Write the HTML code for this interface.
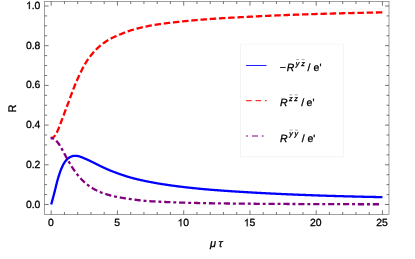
<!DOCTYPE html>
<html><head><meta charset="utf-8"><title>plot</title>
<style>
html,body{margin:0;padding:0;background:#fff;}
body{width:415px;height:259px;overflow:hidden;font-family:"Liberation Sans",sans-serif;}
svg{display:block;will-change:transform;text-rendering:geometricPrecision;font-family:"Liberation Sans",sans-serif;font-size:10px;fill:#000;}
text{stroke:#000;stroke-width:0.3px;}
.it{font-style:italic;}
</style></head><body>
<svg width="415" height="259" viewBox="0 0 415 259">
<rect x="0" y="0" width="415" height="259" fill="#fff"/>
<!-- curves -->
<g fill="none" stroke-width="2.3" stroke-linejoin="round">
<path d="M51.20 204.50 L51.53 203.29 L51.86 202.08 L52.19 200.86 L52.53 199.64 L52.86 198.41 L53.19 197.17 L53.52 195.92 L53.85 194.67 L54.18 193.41 L54.51 192.15 L54.84 190.86 L55.18 189.54 L55.51 188.19 L55.84 186.83 L56.17 185.47 L56.50 184.13 L56.83 182.81 L57.16 181.54 L57.49 180.31 L57.83 179.15 L58.16 178.03 L58.49 176.94 L58.82 175.86 L59.15 174.81 L59.48 173.79 L59.81 172.81 L60.14 171.86 L60.48 170.94 L60.81 170.07 L61.14 169.25 L61.47 168.46 L61.80 167.69 L62.13 166.94 L62.46 166.21 L62.79 165.51 L63.12 164.85 L63.46 164.21 L63.79 163.62 L64.12 163.06 L64.45 162.55 L64.78 162.07 L65.11 161.61 L65.44 161.17 L65.78 160.75 L66.11 160.35 L66.44 159.97 L66.77 159.62 L67.10 159.29 L67.43 158.98 L67.76 158.70 L68.09 158.44 L68.43 158.18 L68.76 157.94 L69.09 157.71 L69.42 157.49 L69.75 157.29 L70.08 157.10 L70.41 156.93 L70.74 156.78 L71.08 156.65 L71.41 156.53 L71.74 156.41 L72.07 156.29 L72.40 156.18 L72.73 156.07 L73.06 155.98 L73.39 155.91 L73.73 155.85 L74.06 155.81 L74.39 155.80 L74.72 155.80 L75.05 155.81 L75.38 155.83 L75.71 155.85 L76.04 155.88 L76.38 155.91 L76.71 155.94 L77.04 155.97 L77.37 156.01 L77.70 156.05 L78.03 156.10 L78.36 156.15 L78.69 156.22 L79.03 156.30 L79.36 156.40 L79.69 156.50 L80.02 156.60 L80.35 156.72 L80.68 156.84 L81.01 156.97 L81.34 157.10 L81.68 157.24 L82.01 157.38 L82.34 157.52 L82.67 157.66 L83.00 157.80 L83.33 157.94 L83.66 158.08 L83.99 158.22 L84.33 158.35 L84.66 158.48 L84.99 158.62 L85.32 158.75 L85.65 158.89 L85.98 159.04 L86.31 159.18 L86.64 159.33 L86.98 159.48 L87.31 159.63 L87.64 159.78 L87.97 159.94 L88.30 160.09 L88.63 160.25 L88.96 160.40 L89.29 160.56 L89.62 160.72 L89.96 160.88 L90.29 161.03 L90.62 161.19 L90.95 161.35 L91.28 161.51 L91.61 161.67 L91.94 161.83 L92.28 161.99 L92.61 162.16 L92.94 162.32 L93.27 162.49 L93.60 162.65 L93.93 162.82 L94.26 162.99 L94.59 163.15 L94.93 163.32 L95.26 163.49 L95.59 163.66 L95.92 163.82 L96.25 163.99 L96.58 164.16 L96.91 164.32 L97.24 164.49 L97.58 164.65 L97.91 164.81 L98.24 164.98 L98.57 165.14 L98.90 165.30 L99.23 165.46 L99.56 165.63 L99.89 165.79 L100.23 165.95 L100.56 166.11 L100.89 166.28 L101.22 166.44 L101.55 166.60 L101.88 166.76 L102.21 166.92 L102.54 167.07 L102.88 167.23 L103.21 167.39 L103.54 167.54 L103.87 167.70 L104.20 167.85 L104.53 168.00 L104.86 168.15 L105.19 168.30 L105.53 168.46 L105.86 168.61 L106.19 168.75 L106.52 168.90 L106.85 169.05 L107.18 169.20 L107.51 169.34 L107.84 169.49 L108.17 169.63 L108.51 169.78 L108.84 169.92 L109.17 170.06 L109.50 170.20 L109.83 170.34 L110.16 170.48 L110.49 170.62 L110.83 170.75 L111.16 170.88 L111.49 171.02 L111.82 171.15 L112.15 171.28 L112.48 171.41 L112.81 171.54 L113.14 171.67 L113.48 171.79 L113.81 171.92 L114.14 172.04 L114.47 172.17 L114.80 172.29 L115.13 172.41 L115.46 172.54 L115.79 172.66 L116.13 172.78 L116.46 172.90 L116.79 173.02 L117.12 173.13 L117.45 173.25 L117.78 173.37 L118.11 173.48 L118.44 173.60 L118.78 173.72 L119.11 173.83 L119.44 173.95 L119.77 174.06 L120.10 174.18 L120.43 174.29 L120.76 174.41 L121.09 174.52 L121.43 174.64 L121.76 174.75 L122.09 174.86 L122.42 174.98 L122.75 175.09 L123.08 175.20 L123.41 175.31 L123.74 175.42 L124.08 175.53 L124.41 175.64 L124.74 175.75 L125.07 175.86 L125.40 175.96 L125.73 176.07 L126.06 176.18 L126.39 176.28 L126.73 176.38 L127.06 176.49 L127.39 176.59 L127.72 176.69 L128.05 176.79 L128.38 176.89 L128.71 176.99 L129.04 177.09 L129.38 177.18 L129.71 177.28 L130.04 177.37 L130.37 177.47 L130.70 177.56 L131.36 177.74 L132.02 177.92 L132.69 178.10 L133.35 178.27 L134.01 178.44 L134.68 178.61 L135.34 178.78 L136.00 178.94 L136.66 179.10 L137.32 179.26 L137.99 179.42 L138.65 179.57 L139.31 179.72 L139.97 179.88 L140.64 180.02 L141.30 180.17 L141.96 180.32 L142.62 180.46 L143.29 180.61 L143.95 180.75 L144.61 180.89 L145.27 181.03 L145.94 181.17 L146.60 181.31 L147.26 181.44 L147.93 181.58 L148.59 181.71 L149.25 181.84 L149.91 181.98 L150.57 182.10 L151.24 182.23 L151.90 182.36 L152.56 182.48 L153.22 182.60 L153.89 182.73 L154.55 182.84 L155.21 182.96 L155.88 183.08 L156.54 183.19 L157.20 183.30 L157.86 183.41 L158.52 183.52 L159.19 183.63 L159.85 183.73 L160.51 183.84 L161.18 183.95 L161.84 184.05 L162.50 184.15 L163.16 184.26 L163.82 184.36 L164.49 184.46 L165.15 184.56 L165.81 184.66 L166.47 184.76 L167.14 184.86 L167.80 184.96 L168.46 185.05 L169.12 185.15 L169.79 185.24 L170.45 185.34 L171.11 185.43 L171.77 185.52 L172.44 185.62 L173.10 185.71 L173.76 185.80 L174.42 185.89 L175.09 185.97 L175.75 186.06 L176.41 186.15 L177.07 186.24 L177.74 186.32 L178.40 186.40 L179.06 186.49 L179.72 186.57 L180.39 186.65 L181.05 186.73 L181.71 186.81 L182.38 186.89 L183.04 186.97 L183.70 187.05 L184.36 187.13 L185.02 187.20 L185.69 187.28 L186.35 187.35 L187.01 187.43 L187.68 187.50 L188.34 187.58 L189.00 187.65 L189.66 187.72 L190.32 187.79 L190.99 187.87 L191.65 187.94 L192.31 188.01 L192.97 188.08 L193.64 188.14 L194.30 188.21 L194.96 188.28 L195.62 188.35 L196.29 188.41 L196.95 188.48 L197.61 188.55 L198.27 188.61 L198.94 188.68 L199.60 188.74 L200.26 188.80 L200.93 188.86 L201.59 188.93 L202.25 188.99 L202.91 189.05 L203.57 189.11 L204.24 189.17 L204.90 189.23 L205.56 189.29 L206.22 189.34 L206.89 189.40 L207.55 189.46 L208.21 189.51 L208.88 189.57 L209.54 189.63 L210.20 189.68 L210.86 189.73 L211.52 189.79 L212.19 189.84 L212.85 189.89 L213.51 189.95 L214.18 190.00 L214.84 190.05 L215.50 190.10 L216.16 190.15 L216.82 190.20 L217.49 190.25 L218.15 190.30 L218.81 190.35 L219.47 190.40 L220.14 190.45 L220.80 190.50 L221.46 190.55 L222.12 190.60 L222.79 190.65 L223.45 190.69 L224.11 190.74 L224.77 190.79 L225.44 190.84 L226.10 190.88 L226.76 190.93 L227.43 190.97 L228.09 191.02 L228.75 191.06 L229.41 191.11 L230.07 191.15 L230.74 191.20 L231.40 191.24 L232.06 191.29 L232.72 191.33 L233.39 191.37 L234.05 191.42 L234.71 191.46 L235.38 191.50 L236.04 191.55 L236.70 191.59 L237.36 191.63 L238.02 191.67 L238.69 191.71 L239.35 191.76 L240.01 191.80 L240.68 191.84 L241.34 191.88 L242.00 191.92 L242.66 191.96 L243.32 192.00 L243.99 192.04 L244.65 192.08 L245.31 192.12 L245.97 192.16 L246.64 192.20 L247.30 192.24 L247.96 192.27 L248.62 192.31 L249.29 192.35 L249.95 192.39 L250.61 192.43 L251.27 192.47 L251.94 192.50 L252.60 192.54 L253.26 192.58 L253.93 192.62 L254.59 192.65 L255.25 192.69 L255.91 192.73 L256.57 192.76 L257.24 192.80 L257.90 192.84 L258.56 192.87 L259.22 192.91 L259.89 192.94 L260.55 192.98 L261.21 193.02 L261.88 193.05 L262.54 193.09 L263.20 193.12 L263.86 193.16 L264.52 193.19 L265.19 193.22 L265.85 193.26 L266.51 193.29 L267.18 193.33 L267.84 193.36 L268.50 193.39 L269.16 193.43 L269.82 193.46 L270.49 193.49 L271.15 193.53 L271.81 193.56 L272.47 193.59 L273.14 193.63 L273.80 193.66 L274.46 193.69 L275.12 193.72 L275.79 193.75 L276.45 193.78 L277.11 193.82 L277.77 193.85 L278.44 193.88 L279.10 193.91 L279.76 193.94 L280.42 193.97 L281.09 194.00 L281.75 194.03 L282.41 194.06 L283.07 194.09 L283.74 194.12 L284.40 194.15 L285.06 194.18 L285.72 194.21 L286.39 194.24 L287.05 194.27 L287.71 194.30 L288.38 194.32 L289.04 194.35 L289.70 194.38 L290.36 194.41 L291.02 194.44 L291.69 194.46 L292.35 194.49 L293.01 194.52 L293.67 194.55 L294.34 194.57 L295.00 194.60 L295.66 194.63 L296.32 194.66 L296.99 194.68 L297.65 194.71 L298.31 194.74 L298.97 194.76 L299.64 194.79 L300.30 194.82 L300.96 194.84 L301.62 194.87 L302.29 194.89 L302.95 194.92 L303.61 194.95 L304.27 194.97 L304.94 195.00 L305.60 195.02 L306.26 195.05 L306.92 195.07 L307.59 195.10 L308.25 195.12 L308.91 195.15 L309.57 195.17 L310.24 195.20 L310.90 195.22 L311.56 195.25 L312.22 195.27 L312.89 195.29 L313.55 195.32 L314.21 195.34 L314.87 195.36 L315.54 195.39 L316.20 195.41 L316.86 195.43 L317.52 195.46 L318.19 195.48 L318.85 195.50 L319.51 195.52 L320.17 195.55 L320.84 195.57 L321.50 195.59 L322.16 195.61 L322.82 195.63 L323.49 195.66 L324.15 195.68 L324.81 195.70 L325.47 195.72 L326.14 195.74 L326.80 195.76 L327.46 195.78 L328.12 195.80 L328.79 195.82 L329.45 195.84 L330.11 195.86 L330.77 195.88 L331.44 195.90 L332.10 195.92 L332.76 195.94 L333.42 195.96 L334.09 195.98 L334.75 196.00 L335.41 196.01 L336.07 196.03 L336.74 196.05 L337.40 196.07 L338.06 196.09 L338.72 196.11 L339.39 196.13 L340.05 196.15 L340.71 196.17 L341.37 196.18 L342.04 196.20 L342.70 196.22 L343.36 196.24 L344.02 196.26 L344.69 196.28 L345.35 196.29 L346.01 196.31 L346.68 196.33 L347.34 196.35 L348.00 196.36 L348.66 196.38 L349.32 196.40 L349.99 196.42 L350.65 196.43 L351.31 196.45 L351.97 196.47 L352.64 196.49 L353.30 196.50 L353.96 196.52 L354.62 196.54 L355.29 196.55 L355.95 196.57 L356.61 196.59 L357.27 196.60 L357.94 196.62 L358.60 196.64 L359.26 196.65 L359.93 196.67 L360.59 196.68 L361.25 196.70 L361.91 196.72 L362.57 196.73 L363.24 196.75 L363.90 196.76 L364.56 196.78 L365.22 196.79 L365.89 196.81 L366.55 196.82 L367.21 196.84 L367.87 196.85 L368.54 196.87 L369.20 196.88 L369.86 196.89 L370.52 196.91 L371.19 196.92 L371.85 196.94 L372.51 196.95 L373.18 196.96 L373.84 196.98 L374.50 196.99 L375.16 197.00 L375.82 197.02 L376.49 197.03 L377.15 197.04 L377.81 197.06 L378.47 197.07 L379.14 197.08 L379.80 197.09 L380.46 197.10 L381.12 197.12 L381.79 197.13 L382.45 197.14" stroke="#0000ff"/>
<path d="M51.20 138.00 L51.53 138.00 L51.86 137.99 L52.19 137.88 L52.53 137.73 L52.86 137.54 L53.19 137.30 L53.52 137.03 L53.85 136.73 L54.18 136.40 L54.51 136.06 L54.84 135.70 L55.18 135.32 L55.51 134.89 L55.84 134.38 L56.17 133.79 L56.50 133.15 L56.83 132.47 L57.16 131.74 L57.49 131.00 L57.83 130.24 L58.16 129.48 L58.49 128.73 L58.82 127.95 L59.15 127.14 L59.48 126.29 L59.81 125.41 L60.14 124.51 L60.48 123.61 L60.81 122.70 L61.14 121.79 L61.47 120.89 L61.80 120.02 L62.13 119.14 L62.46 118.27 L62.79 117.39 L63.12 116.52 L63.46 115.64 L63.79 114.76 L64.12 113.89 L64.45 113.01 L64.78 112.13 L65.11 111.25 L65.44 110.38 L65.78 109.50 L66.11 108.63 L66.44 107.76 L66.77 106.88 L67.10 106.01 L67.43 105.13 L67.76 104.25 L68.09 103.36 L68.43 102.47 L68.76 101.57 L69.09 100.67 L69.42 99.75 L69.75 98.84 L70.08 97.92 L70.41 97.01 L70.74 96.10 L71.08 95.20 L71.41 94.29 L71.74 93.40 L72.07 92.51 L72.40 91.63 L72.73 90.75 L73.06 89.89 L73.39 89.03 L73.73 88.18 L74.06 87.34 L74.39 86.51 L74.72 85.69 L75.05 84.88 L75.38 84.08 L75.71 83.29 L76.04 82.51 L76.38 81.74 L76.71 80.98 L77.04 80.22 L77.37 79.48 L77.70 78.74 L78.03 78.02 L78.36 77.30 L78.69 76.58 L79.03 75.86 L79.36 75.15 L79.69 74.43 L80.02 73.72 L80.35 73.02 L80.68 72.32 L81.01 71.63 L81.34 70.94 L81.68 70.26 L82.01 69.59 L82.34 68.93 L82.67 68.29 L83.00 67.65 L83.33 67.02 L83.66 66.41 L83.99 65.81 L84.33 65.23 L84.66 64.66 L84.99 64.11 L85.32 63.56 L85.65 63.02 L85.98 62.49 L86.31 61.97 L86.64 61.45 L86.98 60.94 L87.31 60.44 L87.64 59.95 L87.97 59.47 L88.30 58.99 L88.63 58.52 L88.96 58.05 L89.29 57.60 L89.62 57.15 L89.96 56.70 L90.29 56.26 L90.62 55.83 L90.95 55.40 L91.28 54.99 L91.61 54.58 L91.94 54.18 L92.28 53.78 L92.61 53.39 L92.94 53.00 L93.27 52.62 L93.60 52.24 L93.93 51.86 L94.26 51.49 L94.59 51.13 L94.93 50.77 L95.26 50.42 L95.59 50.07 L95.92 49.73 L96.25 49.39 L96.58 49.06 L96.91 48.73 L97.24 48.41 L97.58 48.10 L97.91 47.79 L98.24 47.49 L98.57 47.19 L98.90 46.89 L99.23 46.60 L99.56 46.31 L99.89 46.03 L100.23 45.75 L100.56 45.48 L100.89 45.21 L101.22 44.94 L101.55 44.68 L101.88 44.42 L102.21 44.16 L102.54 43.91 L102.88 43.66 L103.21 43.41 L103.54 43.17 L103.87 42.93 L104.20 42.70 L104.53 42.47 L104.86 42.24 L105.19 42.01 L105.53 41.79 L105.86 41.57 L106.19 41.35 L106.52 41.14 L106.85 40.92 L107.18 40.72 L107.51 40.51 L107.84 40.30 L108.17 40.10 L108.51 39.91 L108.84 39.71 L109.17 39.52 L109.50 39.33 L109.83 39.14 L110.16 38.96 L110.49 38.78 L110.83 38.60 L111.16 38.43 L111.49 38.25 L111.82 38.08 L112.15 37.92 L112.48 37.75 L112.81 37.59 L113.14 37.43 L113.48 37.28 L113.81 37.12 L114.14 36.97 L114.47 36.82 L114.80 36.67 L115.13 36.52 L115.46 36.37 L115.79 36.22 L116.13 36.08 L116.46 35.93 L116.79 35.79 L117.12 35.64 L117.45 35.50 L117.78 35.36 L118.11 35.21 L118.44 35.07 L118.78 34.93 L119.11 34.79 L119.44 34.65 L119.77 34.51 L120.10 34.38 L120.43 34.24 L120.76 34.11 L121.09 33.97 L121.43 33.84 L121.76 33.71 L122.09 33.57 L122.42 33.44 L122.75 33.31 L123.08 33.18 L123.41 33.06 L123.74 32.93 L124.08 32.80 L124.41 32.67 L124.74 32.55 L125.07 32.42 L125.40 32.29 L125.73 32.16 L126.06 32.04 L126.39 31.91 L126.73 31.79 L127.06 31.66 L127.39 31.54 L127.72 31.42 L128.05 31.30 L128.38 31.18 L128.71 31.06 L129.04 30.94 L129.38 30.83 L129.71 30.72 L130.04 30.61 L130.37 30.50 L130.70 30.40 L131.36 30.20 L132.02 30.00 L132.69 29.80 L133.35 29.61 L134.01 29.42 L134.68 29.23 L135.34 29.05 L136.00 28.87 L136.66 28.70 L137.32 28.52 L137.99 28.35 L138.65 28.18 L139.31 28.02 L139.97 27.86 L140.64 27.70 L141.30 27.54 L141.96 27.39 L142.62 27.24 L143.29 27.09 L143.95 26.95 L144.61 26.81 L145.27 26.67 L145.94 26.53 L146.60 26.39 L147.26 26.26 L147.93 26.12 L148.59 25.99 L149.25 25.87 L149.91 25.74 L150.57 25.61 L151.24 25.49 L151.90 25.37 L152.56 25.26 L153.22 25.14 L153.89 25.03 L154.55 24.92 L155.21 24.81 L155.88 24.70 L156.54 24.60 L157.20 24.50 L157.86 24.40 L158.52 24.30 L159.19 24.21 L159.85 24.11 L160.51 24.02 L161.18 23.93 L161.84 23.84 L162.50 23.75 L163.16 23.66 L163.82 23.57 L164.49 23.48 L165.15 23.39 L165.81 23.31 L166.47 23.23 L167.14 23.14 L167.80 23.06 L168.46 22.98 L169.12 22.90 L169.79 22.82 L170.45 22.74 L171.11 22.66 L171.77 22.58 L172.44 22.51 L173.10 22.43 L173.76 22.36 L174.42 22.28 L175.09 22.21 L175.75 22.13 L176.41 22.06 L177.07 21.99 L177.74 21.92 L178.40 21.85 L179.06 21.78 L179.72 21.71 L180.39 21.64 L181.05 21.57 L181.71 21.50 L182.38 21.43 L183.04 21.37 L183.70 21.30 L184.36 21.23 L185.02 21.17 L185.69 21.10 L186.35 21.04 L187.01 20.97 L187.68 20.91 L188.34 20.84 L189.00 20.78 L189.66 20.71 L190.32 20.65 L190.99 20.59 L191.65 20.53 L192.31 20.47 L192.97 20.40 L193.64 20.34 L194.30 20.28 L194.96 20.22 L195.62 20.17 L196.29 20.11 L196.95 20.05 L197.61 19.99 L198.27 19.93 L198.94 19.88 L199.60 19.82 L200.26 19.77 L200.93 19.71 L201.59 19.66 L202.25 19.60 L202.91 19.55 L203.57 19.50 L204.24 19.44 L204.90 19.39 L205.56 19.34 L206.22 19.29 L206.89 19.24 L207.55 19.19 L208.21 19.14 L208.88 19.09 L209.54 19.05 L210.20 19.00 L210.86 18.95 L211.52 18.91 L212.19 18.86 L212.85 18.82 L213.51 18.77 L214.18 18.73 L214.84 18.68 L215.50 18.64 L216.16 18.60 L216.82 18.55 L217.49 18.51 L218.15 18.47 L218.81 18.43 L219.47 18.38 L220.14 18.34 L220.80 18.30 L221.46 18.26 L222.12 18.22 L222.79 18.18 L223.45 18.14 L224.11 18.10 L224.77 18.06 L225.44 18.02 L226.10 17.98 L226.76 17.94 L227.43 17.90 L228.09 17.87 L228.75 17.83 L229.41 17.79 L230.07 17.75 L230.74 17.72 L231.40 17.68 L232.06 17.64 L232.72 17.60 L233.39 17.57 L234.05 17.53 L234.71 17.50 L235.38 17.46 L236.04 17.42 L236.70 17.39 L237.36 17.35 L238.02 17.32 L238.69 17.28 L239.35 17.25 L240.01 17.21 L240.68 17.18 L241.34 17.14 L242.00 17.11 L242.66 17.07 L243.32 17.04 L243.99 17.01 L244.65 16.97 L245.31 16.94 L245.97 16.90 L246.64 16.87 L247.30 16.83 L247.96 16.80 L248.62 16.77 L249.29 16.73 L249.95 16.70 L250.61 16.67 L251.27 16.63 L251.94 16.60 L252.60 16.57 L253.26 16.53 L253.93 16.50 L254.59 16.47 L255.25 16.43 L255.91 16.40 L256.57 16.37 L257.24 16.34 L257.90 16.30 L258.56 16.27 L259.22 16.24 L259.89 16.21 L260.55 16.17 L261.21 16.14 L261.88 16.11 L262.54 16.08 L263.20 16.05 L263.86 16.01 L264.52 15.98 L265.19 15.95 L265.85 15.92 L266.51 15.89 L267.18 15.86 L267.84 15.83 L268.50 15.80 L269.16 15.77 L269.82 15.74 L270.49 15.71 L271.15 15.68 L271.81 15.65 L272.47 15.62 L273.14 15.59 L273.80 15.56 L274.46 15.53 L275.12 15.50 L275.79 15.47 L276.45 15.44 L277.11 15.41 L277.77 15.38 L278.44 15.36 L279.10 15.33 L279.76 15.30 L280.42 15.27 L281.09 15.24 L281.75 15.22 L282.41 15.19 L283.07 15.16 L283.74 15.13 L284.40 15.11 L285.06 15.08 L285.72 15.05 L286.39 15.03 L287.05 15.00 L287.71 14.98 L288.38 14.95 L289.04 14.93 L289.70 14.90 L290.36 14.87 L291.02 14.85 L291.69 14.82 L292.35 14.80 L293.01 14.78 L293.67 14.75 L294.34 14.73 L295.00 14.70 L295.66 14.68 L296.32 14.65 L296.99 14.63 L297.65 14.61 L298.31 14.58 L298.97 14.56 L299.64 14.53 L300.30 14.51 L300.96 14.49 L301.62 14.46 L302.29 14.44 L302.95 14.42 L303.61 14.40 L304.27 14.37 L304.94 14.35 L305.60 14.33 L306.26 14.31 L306.92 14.28 L307.59 14.26 L308.25 14.24 L308.91 14.22 L309.57 14.20 L310.24 14.17 L310.90 14.15 L311.56 14.13 L312.22 14.11 L312.89 14.09 L313.55 14.07 L314.21 14.05 L314.87 14.03 L315.54 14.00 L316.20 13.98 L316.86 13.96 L317.52 13.94 L318.19 13.92 L318.85 13.90 L319.51 13.88 L320.17 13.86 L320.84 13.84 L321.50 13.82 L322.16 13.80 L322.82 13.79 L323.49 13.77 L324.15 13.75 L324.81 13.73 L325.47 13.71 L326.14 13.69 L326.80 13.67 L327.46 13.65 L328.12 13.64 L328.79 13.62 L329.45 13.60 L330.11 13.58 L330.77 13.56 L331.44 13.55 L332.10 13.53 L332.76 13.51 L333.42 13.49 L334.09 13.48 L334.75 13.46 L335.41 13.44 L336.07 13.42 L336.74 13.41 L337.40 13.39 L338.06 13.37 L338.72 13.35 L339.39 13.34 L340.05 13.32 L340.71 13.30 L341.37 13.29 L342.04 13.27 L342.70 13.25 L343.36 13.24 L344.02 13.22 L344.69 13.20 L345.35 13.19 L346.01 13.17 L346.68 13.15 L347.34 13.14 L348.00 13.12 L348.66 13.11 L349.32 13.09 L349.99 13.07 L350.65 13.06 L351.31 13.04 L351.97 13.03 L352.64 13.01 L353.30 12.99 L353.96 12.98 L354.62 12.96 L355.29 12.95 L355.95 12.93 L356.61 12.92 L357.27 12.90 L357.94 12.89 L358.60 12.87 L359.26 12.86 L359.93 12.84 L360.59 12.83 L361.25 12.81 L361.91 12.80 L362.57 12.79 L363.24 12.77 L363.90 12.76 L364.56 12.74 L365.22 12.73 L365.89 12.71 L366.55 12.70 L367.21 12.69 L367.87 12.67 L368.54 12.66 L369.20 12.65 L369.86 12.63 L370.52 12.62 L371.19 12.61 L371.85 12.59 L372.51 12.58 L373.18 12.57 L373.84 12.56 L374.50 12.54 L375.16 12.53 L375.82 12.52 L376.49 12.51 L377.15 12.49 L377.81 12.48 L378.47 12.47 L379.14 12.46 L379.80 12.45 L380.46 12.43 L381.12 12.42 L381.79 12.41 L382.45 12.40" stroke="#ff0000" stroke-dasharray="6.46 2.78" stroke-dashoffset="1.2"/>
<path d="M51.20 138.00 L51.53 138.06 L51.86 138.14 L52.19 138.25 L52.53 138.37 L52.86 138.51 L53.19 138.67 L53.52 138.84 L53.85 139.02 L54.18 139.21 L54.51 139.40 L54.84 139.61 L55.18 139.86 L55.51 140.14 L55.84 140.44 L56.17 140.77 L56.50 141.12 L56.83 141.49 L57.16 141.87 L57.49 142.26 L57.83 142.65 L58.16 143.06 L58.49 143.51 L58.82 143.99 L59.15 144.48 L59.48 145.00 L59.81 145.54 L60.14 146.08 L60.48 146.64 L60.81 147.19 L61.14 147.75 L61.47 148.31 L61.80 148.90 L62.13 149.50 L62.46 150.11 L62.79 150.73 L63.12 151.35 L63.46 151.97 L63.79 152.60 L64.12 153.21 L64.45 153.82 L64.78 154.42 L65.11 155.03 L65.44 155.63 L65.78 156.23 L66.11 156.83 L66.44 157.43 L66.77 158.03 L67.10 158.62 L67.43 159.21 L67.76 159.79 L68.09 160.37 L68.43 160.95 L68.76 161.53 L69.09 162.10 L69.42 162.67 L69.75 163.24 L70.08 163.80 L70.41 164.35 L70.74 164.90 L71.08 165.44 L71.41 165.97 L71.74 166.51 L72.07 167.03 L72.40 167.55 L72.73 168.07 L73.06 168.58 L73.39 169.08 L73.73 169.58 L74.06 170.07 L74.39 170.55 L74.72 171.03 L75.05 171.50 L75.38 171.96 L75.71 172.43 L76.04 172.88 L76.38 173.33 L76.71 173.77 L77.04 174.19 L77.37 174.61 L77.70 175.02 L78.03 175.42 L78.36 175.81 L78.69 176.21 L79.03 176.59 L79.36 176.98 L79.69 177.36 L80.02 177.73 L80.35 178.10 L80.68 178.47 L81.01 178.83 L81.34 179.19 L81.68 179.54 L82.01 179.88 L82.34 180.22 L82.67 180.55 L83.00 180.88 L83.33 181.20 L83.66 181.51 L83.99 181.82 L84.33 182.12 L84.66 182.41 L84.99 182.71 L85.32 182.99 L85.65 183.27 L85.98 183.55 L86.31 183.83 L86.64 184.09 L86.98 184.36 L87.31 184.62 L87.64 184.88 L87.97 185.13 L88.30 185.38 L88.63 185.62 L88.96 185.86 L89.29 186.10 L89.62 186.33 L89.96 186.56 L90.29 186.78 L90.62 187.00 L90.95 187.22 L91.28 187.43 L91.61 187.64 L91.94 187.85 L92.28 188.05 L92.61 188.25 L92.94 188.45 L93.27 188.64 L93.60 188.83 L93.93 189.02 L94.26 189.20 L94.59 189.38 L94.93 189.56 L95.26 189.74 L95.59 189.91 L95.92 190.08 L96.25 190.25 L96.58 190.41 L96.91 190.58 L97.24 190.73 L97.58 190.89 L97.91 191.04 L98.24 191.19 L98.57 191.34 L98.90 191.49 L99.23 191.64 L99.56 191.78 L99.89 191.92 L100.23 192.06 L100.56 192.19 L100.89 192.33 L101.22 192.46 L101.55 192.59 L101.88 192.72 L102.21 192.84 L102.54 192.97 L102.88 193.09 L103.21 193.21 L103.54 193.33 L103.87 193.45 L104.20 193.56 L104.53 193.67 L104.86 193.78 L105.19 193.89 L105.53 194.00 L105.86 194.11 L106.19 194.21 L106.52 194.32 L106.85 194.42 L107.18 194.52 L107.51 194.62 L107.84 194.72 L108.17 194.82 L108.51 194.91 L108.84 195.01 L109.17 195.10 L109.50 195.19 L109.83 195.28 L110.16 195.37 L110.49 195.45 L110.83 195.54 L111.16 195.62 L111.49 195.71 L111.82 195.79 L112.15 195.87 L112.48 195.95 L112.81 196.03 L113.14 196.11 L113.48 196.19 L113.81 196.27 L114.14 196.34 L114.47 196.42 L114.80 196.49 L115.13 196.56 L115.46 196.63 L115.79 196.70 L116.13 196.77 L116.46 196.84 L116.79 196.90 L117.12 196.97 L117.45 197.03 L117.78 197.09 L118.11 197.15 L118.44 197.21 L118.78 197.27 L119.11 197.33 L119.44 197.39 L119.77 197.45 L120.10 197.50 L120.43 197.56 L120.76 197.62 L121.09 197.67 L121.43 197.73 L121.76 197.78 L122.09 197.83 L122.42 197.88 L122.75 197.94 L123.08 197.99 L123.41 198.04 L123.74 198.09 L124.08 198.14 L124.41 198.19 L124.74 198.24 L125.07 198.29 L125.40 198.34 L125.73 198.39 L126.06 198.44 L126.39 198.48 L126.73 198.53 L127.06 198.58 L127.39 198.63 L127.72 198.67 L128.05 198.72 L128.38 198.77 L128.71 198.81 L129.04 198.86 L129.38 198.91 L129.71 198.95 L130.04 199.00 L130.37 199.04 L130.70 199.09 L131.36 199.18 L132.02 199.27 L132.69 199.37 L133.35 199.46 L134.01 199.55 L134.68 199.64 L135.34 199.74 L136.00 199.83 L136.66 199.91 L137.32 200.00 L137.99 200.09 L138.65 200.17 L139.31 200.25 L139.97 200.33 L140.64 200.41 L141.30 200.48 L141.96 200.55 L142.62 200.62 L143.29 200.68 L143.95 200.74 L144.61 200.80 L145.27 200.85 L145.94 200.90 L146.60 200.95 L147.26 201.00 L147.93 201.05 L148.59 201.10 L149.25 201.15 L149.91 201.19 L150.57 201.23 L151.24 201.28 L151.90 201.32 L152.56 201.36 L153.22 201.39 L153.89 201.43 L154.55 201.47 L155.21 201.51 L155.88 201.54 L156.54 201.58 L157.20 201.61 L157.86 201.64 L158.52 201.68 L159.19 201.71 L159.85 201.74 L160.51 201.77 L161.18 201.81 L161.84 201.84 L162.50 201.87 L163.16 201.90 L163.82 201.93 L164.49 201.96 L165.15 201.99 L165.81 202.02 L166.47 202.04 L167.14 202.07 L167.80 202.10 L168.46 202.13 L169.12 202.16 L169.79 202.18 L170.45 202.21 L171.11 202.23 L171.77 202.26 L172.44 202.29 L173.10 202.31 L173.76 202.34 L174.42 202.36 L175.09 202.38 L175.75 202.41 L176.41 202.43 L177.07 202.45 L177.74 202.48 L178.40 202.50 L179.06 202.52 L179.72 202.54 L180.39 202.56 L181.05 202.58 L181.71 202.60 L182.38 202.62 L183.04 202.64 L183.70 202.66 L184.36 202.68 L185.02 202.70 L185.69 202.72 L186.35 202.73 L187.01 202.75 L187.68 202.77 L188.34 202.79 L189.00 202.80 L189.66 202.82 L190.32 202.84 L190.99 202.86 L191.65 202.87 L192.31 202.89 L192.97 202.90 L193.64 202.92 L194.30 202.94 L194.96 202.95 L195.62 202.97 L196.29 202.98 L196.95 203.00 L197.61 203.01 L198.27 203.03 L198.94 203.04 L199.60 203.05 L200.26 203.07 L200.93 203.08 L201.59 203.09 L202.25 203.11 L202.91 203.12 L203.57 203.13 L204.24 203.15 L204.90 203.16 L205.56 203.17 L206.22 203.18 L206.89 203.19 L207.55 203.21 L208.21 203.22 L208.88 203.23 L209.54 203.24 L210.20 203.25 L210.86 203.26 L211.52 203.27 L212.19 203.28 L212.85 203.29 L213.51 203.30 L214.18 203.31 L214.84 203.32 L215.50 203.33 L216.16 203.34 L216.82 203.35 L217.49 203.36 L218.15 203.37 L218.81 203.38 L219.47 203.39 L220.14 203.40 L220.80 203.41 L221.46 203.42 L222.12 203.43 L222.79 203.43 L223.45 203.44 L224.11 203.45 L224.77 203.46 L225.44 203.47 L226.10 203.48 L226.76 203.49 L227.43 203.49 L228.09 203.50 L228.75 203.51 L229.41 203.52 L230.07 203.53 L230.74 203.54 L231.40 203.54 L232.06 203.55 L232.72 203.56 L233.39 203.57 L234.05 203.57 L234.71 203.58 L235.38 203.59 L236.04 203.60 L236.70 203.60 L237.36 203.61 L238.02 203.62 L238.69 203.62 L239.35 203.63 L240.01 203.64 L240.68 203.64 L241.34 203.65 L242.00 203.66 L242.66 203.66 L243.32 203.67 L243.99 203.68 L244.65 203.68 L245.31 203.69 L245.97 203.69 L246.64 203.70 L247.30 203.71 L247.96 203.71 L248.62 203.72 L249.29 203.72 L249.95 203.73 L250.61 203.74 L251.27 203.74 L251.94 203.75 L252.60 203.75 L253.26 203.76 L253.93 203.76 L254.59 203.77 L255.25 203.77 L255.91 203.78 L256.57 203.78 L257.24 203.79 L257.90 203.79 L258.56 203.80 L259.22 203.80 L259.89 203.81 L260.55 203.81 L261.21 203.82 L261.88 203.82 L262.54 203.83 L263.20 203.83 L263.86 203.84 L264.52 203.84 L265.19 203.85 L265.85 203.85 L266.51 203.86 L267.18 203.86 L267.84 203.86 L268.50 203.87 L269.16 203.87 L269.82 203.88 L270.49 203.88 L271.15 203.89 L271.81 203.89 L272.47 203.89 L273.14 203.90 L273.80 203.90 L274.46 203.91 L275.12 203.91 L275.79 203.91 L276.45 203.92 L277.11 203.92 L277.77 203.93 L278.44 203.93 L279.10 203.93 L279.76 203.94 L280.42 203.94 L281.09 203.94 L281.75 203.95 L282.41 203.95 L283.07 203.96 L283.74 203.96 L284.40 203.96 L285.06 203.97 L285.72 203.97 L286.39 203.97 L287.05 203.98 L287.71 203.98 L288.38 203.98 L289.04 203.99 L289.70 203.99 L290.36 203.99 L291.02 204.00 L291.69 204.00 L292.35 204.00 L293.01 204.01 L293.67 204.01 L294.34 204.01 L295.00 204.02 L295.66 204.02 L296.32 204.02 L296.99 204.03 L297.65 204.03 L298.31 204.03 L298.97 204.03 L299.64 204.04 L300.30 204.04 L300.96 204.04 L301.62 204.05 L302.29 204.05 L302.95 204.05 L303.61 204.05 L304.27 204.06 L304.94 204.06 L305.60 204.06 L306.26 204.07 L306.92 204.07 L307.59 204.07 L308.25 204.07 L308.91 204.08 L309.57 204.08 L310.24 204.08 L310.90 204.08 L311.56 204.09 L312.22 204.09 L312.89 204.09 L313.55 204.10 L314.21 204.10 L314.87 204.10 L315.54 204.10 L316.20 204.11 L316.86 204.11 L317.52 204.11 L318.19 204.11 L318.85 204.11 L319.51 204.12 L320.17 204.12 L320.84 204.12 L321.50 204.12 L322.16 204.13 L322.82 204.13 L323.49 204.13 L324.15 204.13 L324.81 204.14 L325.47 204.14 L326.14 204.14 L326.80 204.14 L327.46 204.14 L328.12 204.15 L328.79 204.15 L329.45 204.15 L330.11 204.15 L330.77 204.15 L331.44 204.16 L332.10 204.16 L332.76 204.16 L333.42 204.16 L334.09 204.16 L334.75 204.17 L335.41 204.17 L336.07 204.17 L336.74 204.17 L337.40 204.17 L338.06 204.18 L338.72 204.18 L339.39 204.18 L340.05 204.18 L340.71 204.18 L341.37 204.19 L342.04 204.19 L342.70 204.19 L343.36 204.19 L344.02 204.19 L344.69 204.20 L345.35 204.20 L346.01 204.20 L346.68 204.20 L347.34 204.20 L348.00 204.20 L348.66 204.21 L349.32 204.21 L349.99 204.21 L350.65 204.21 L351.31 204.21 L351.97 204.21 L352.64 204.22 L353.30 204.22 L353.96 204.22 L354.62 204.22 L355.29 204.22 L355.95 204.23 L356.61 204.23 L357.27 204.23 L357.94 204.23 L358.60 204.23 L359.26 204.23 L359.93 204.23 L360.59 204.24 L361.25 204.24 L361.91 204.24 L362.57 204.24 L363.24 204.24 L363.90 204.24 L364.56 204.25 L365.22 204.25 L365.89 204.25 L366.55 204.25 L367.21 204.25 L367.87 204.25 L368.54 204.25 L369.20 204.26 L369.86 204.26 L370.52 204.26 L371.19 204.26 L371.85 204.26 L372.51 204.26 L373.18 204.26 L373.84 204.27 L374.50 204.27 L375.16 204.27 L375.82 204.27 L376.49 204.27 L377.15 204.27 L377.81 204.27 L378.47 204.27 L379.14 204.27 L379.80 204.28 L380.46 204.28 L381.12 204.28 L381.79 204.28" stroke="#800080" stroke-dasharray="2.95 2.85 6.25 2.85"/>
<path d="M50.5 138 H51.6" stroke="#800080"/>
</g>
<!-- frame -->
<rect x="44.6" y="1.5" width="344.4" height="213.0" fill="none" stroke="#777" stroke-width="0.7"/>
<path d="M51.20 214.5 v-4.2 M51.20 1.5 v4.2 M64.45 214.5 v-2.5 M64.45 1.5 v2.5 M77.70 214.5 v-2.5 M77.70 1.5 v2.5 M90.95 214.5 v-2.5 M90.95 1.5 v2.5 M104.20 214.5 v-2.5 M104.20 1.5 v2.5 M117.45 214.5 v-4.2 M117.45 1.5 v4.2 M130.70 214.5 v-2.5 M130.70 1.5 v2.5 M143.95 214.5 v-2.5 M143.95 1.5 v2.5 M157.20 214.5 v-2.5 M157.20 1.5 v2.5 M170.45 214.5 v-2.5 M170.45 1.5 v2.5 M183.70 214.5 v-4.2 M183.70 1.5 v4.2 M196.95 214.5 v-2.5 M196.95 1.5 v2.5 M210.20 214.5 v-2.5 M210.20 1.5 v2.5 M223.45 214.5 v-2.5 M223.45 1.5 v2.5 M236.70 214.5 v-2.5 M236.70 1.5 v2.5 M249.95 214.5 v-4.2 M249.95 1.5 v4.2 M263.20 214.5 v-2.5 M263.20 1.5 v2.5 M276.45 214.5 v-2.5 M276.45 1.5 v2.5 M289.70 214.5 v-2.5 M289.70 1.5 v2.5 M302.95 214.5 v-2.5 M302.95 1.5 v2.5 M316.20 214.5 v-4.2 M316.20 1.5 v4.2 M329.45 214.5 v-2.5 M329.45 1.5 v2.5 M342.70 214.5 v-2.5 M342.70 1.5 v2.5 M355.95 214.5 v-2.5 M355.95 1.5 v2.5 M369.20 214.5 v-2.5 M369.20 1.5 v2.5 M382.45 214.5 v-4.2 M382.45 1.5 v4.2 M44.6 204.50 h4.0 M389.0 204.50 h-4.0 M44.6 194.57 h2.5 M389.0 194.57 h-2.5 M44.6 184.65 h2.5 M389.0 184.65 h-2.5 M44.6 174.72 h2.5 M389.0 174.72 h-2.5 M44.6 164.80 h4.0 M389.0 164.80 h-4.0 M44.6 154.88 h2.5 M389.0 154.88 h-2.5 M44.6 144.95 h2.5 M389.0 144.95 h-2.5 M44.6 135.02 h2.5 M389.0 135.02 h-2.5 M44.6 125.10 h4.0 M389.0 125.10 h-4.0 M44.6 115.17 h2.5 M389.0 115.17 h-2.5 M44.6 105.25 h2.5 M389.0 105.25 h-2.5 M44.6 95.32 h2.5 M389.0 95.32 h-2.5 M44.6 85.40 h4.0 M389.0 85.40 h-4.0 M44.6 75.47 h2.5 M389.0 75.47 h-2.5 M44.6 65.55 h2.5 M389.0 65.55 h-2.5 M44.6 55.62 h2.5 M389.0 55.62 h-2.5 M44.6 45.70 h4.0 M389.0 45.70 h-4.0 M44.6 35.77 h2.5 M389.0 35.77 h-2.5 M44.6 25.85 h2.5 M389.0 25.85 h-2.5 M44.6 15.92 h2.5 M389.0 15.92 h-2.5 M44.6 6.00 h4.0 M389.0 6.00 h-4.0" fill="none" stroke="#1a1a1a" stroke-width="0.6"/>
<g><text x="47.91" y="226.30" font-size="10.4">0</text><text x="114.16" y="226.30" font-size="10.4">5</text><path d="M763 0H583V1147Q518 1085 412.5 1023T223 930V1104Q373 1174.5 485 1275T644 1470H763Z" transform="translate(177.52 226.30) scale(0.00508 -0.00508)" fill="#000" stroke="#000" stroke-width="39.4"/><text x="183.30" y="226.30" font-size="10.4">0</text><path d="M763 0H583V1147Q518 1085 412.5 1023T223 930V1104Q373 1174.5 485 1275T644 1470H763Z" transform="translate(243.77 226.30) scale(0.00508 -0.00508)" fill="#000" stroke="#000" stroke-width="39.4"/><text x="249.55" y="226.30" font-size="10.4">5</text><text x="310.02" y="226.30" font-size="10.4">2</text><text x="315.80" y="226.30" font-size="10.4">0</text><text x="376.27" y="226.30" font-size="10.4">2</text><text x="382.05" y="226.30" font-size="10.4">5</text></g>
<g><text x="25.94" y="207.50" font-size="10.4">0</text><text x="31.73" y="207.50" font-size="10.4">.</text><text x="34.62" y="207.50" font-size="10.4">0</text><text x="25.94" y="167.80" font-size="10.4">0</text><text x="31.73" y="167.80" font-size="10.4">.</text><text x="34.62" y="167.80" font-size="10.4">2</text><text x="25.94" y="128.10" font-size="10.4">0</text><text x="31.73" y="128.10" font-size="10.4">.</text><text x="34.62" y="128.10" font-size="10.4">4</text><text x="25.94" y="88.40" font-size="10.4">0</text><text x="31.73" y="88.40" font-size="10.4">.</text><text x="34.62" y="88.40" font-size="10.4">6</text><text x="25.94" y="48.70" font-size="10.4">0</text><text x="31.73" y="48.70" font-size="10.4">.</text><text x="34.62" y="48.70" font-size="10.4">8</text><path d="M763 0H583V1147Q518 1085 412.5 1023T223 930V1104Q373 1174.5 485 1275T644 1470H763Z" transform="translate(25.94 9.00) scale(0.00508 -0.00508)" fill="#000" stroke="#000" stroke-width="39.4"/><text x="31.73" y="9.00" font-size="10.4">.</text><text x="34.62" y="9.00" font-size="10.4">0</text></g>
<text class="it" font-size="11" x="209.9" y="246.5">&#956;</text><text class="it" font-size="11" x="218.6" y="246.5">&#964;</text>
<text x="0" y="0" font-size="11" transform="translate(16.1 108.6) rotate(-90)" text-anchor="middle">R</text>
<!-- legend -->
<rect x="240.5" y="44.2" width="102.9" height="112.6" fill="#fff" stroke="none"/>
<path d="M240.5 44.2 V156.8 H343.4 V44.2" fill="none" stroke="#f3f3f3" stroke-width="1"/>
<path d="M240.5 44.2 H343.4" fill="none" stroke="#f8f8f8" stroke-width="1"/>
<g fill="none" stroke-width="1">
<path d="M246.1 65.5 H266.5" stroke="#1c1cff"/>
<path d="M246.1 100.7 H266.6" stroke="#ff0000" stroke-dasharray="5.6 3.8"/>
<path d="M246.1 136 H266" stroke="#800080" stroke-dasharray="1.9 4.0 6.0 3.7"/>
</g>
<g font-size="10.5"><text x="279.80" y="71.10">&#8722;</text><text class="it" x="286.70" y="71.10">R</text><text class="it" font-size="7.2" x="295.70" y="65.50">y</text><text class="it" font-size="7.2" x="301.20" y="65.50">z</text><text x="307.60" y="71.10">/</text><text x="313.60" y="71.10">e'</text><path d="M296.20 59.60 h2.9 M301.70 59.60 h2.9" stroke="#555" stroke-width="0.5" fill="none"/></g><g font-size="10.5"><text class="it" x="280.00" y="106.35">R</text><text class="it" font-size="7.2" x="288.90" y="100.75">z</text><text class="it" font-size="7.2" x="294.20" y="100.75">z</text><text x="301.30" y="106.35">/</text><text x="306.60" y="106.35">e'</text><path d="M289.40 94.85 h2.9 M294.70 94.85 h2.9" stroke="#555" stroke-width="0.5" fill="none"/></g><g font-size="10.5"><text class="it" x="280.00" y="141.60">R</text><text class="it" font-size="7.2" x="289.20" y="136.00">y</text><text class="it" font-size="7.2" x="294.60" y="136.00">y</text><text x="301.80" y="141.60">/</text><text x="307.50" y="141.60">e'</text><path d="M289.70 130.10 h2.9 M295.10 130.10 h2.9" stroke="#555" stroke-width="0.5" fill="none"/></g>
</svg>
</body></html>
